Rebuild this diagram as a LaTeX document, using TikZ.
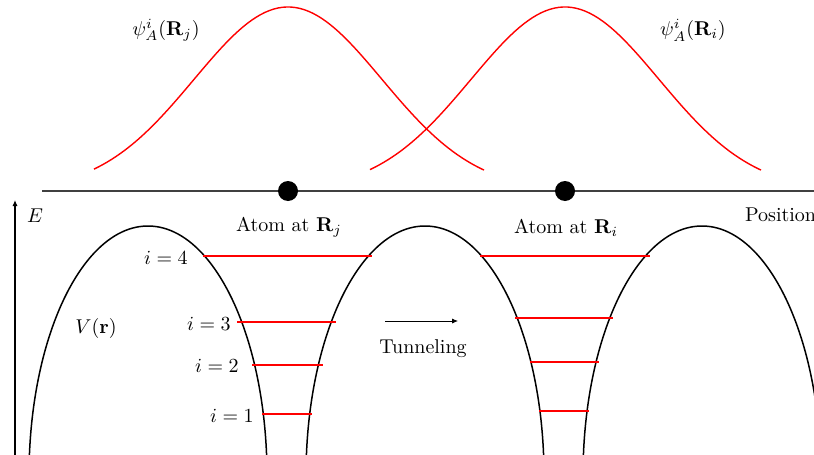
\documentclass[tikz,border=0pt]{standalone}
\usepackage{amsmath}
\usetikzlibrary{arrows.meta}
\begin{document}
\begin{tikzpicture}[x=0.5pt,y=-0.5pt]
\tikzset{
  atom/.style={circle, fill=black, inner sep=0pt, minimum size=10pt},
  well/.style={black, line width=0.75pt},
  level/.style={red, line width=1.1pt},
  wave/.style={red, line width=0.7pt},
  tip/.style={-{Latex[length=3pt,width=2.6pt]}}
}
\useasboundingbox (0,0) rectangle (814,455);
\clip (0,0) rectangle (814,455);
\draw[wave] plot[domain=94:484, samples=90] (\x, {191-184*exp(-0.5*((\x-288)/94)^2)});
\draw[wave] plot[domain=370:761, samples=90] (\x, {191-184*exp(-0.5*((\x-565)/94)^2)});
\node (psij) at (166,30) {$\psi_A^i(\mathbf{R}_j)$};
\node (psii) at (693,30) {$\psi_A^i(\mathbf{R}_i)$};
\coordinate (axl) at (42,191);
\coordinate (axr) at (820,191);
\node[atom] (Rj) at (288,191) {};
\node[atom] (Ri) at (565,191) {};
\draw[black!75, line width=0.75pt] (axl) -- (Rj) -- (Ri) -- (axr);
\node (atomj) at (289,227) {Atom at $\mathbf{R}_j$};
\node (atomi) at (566,228) {Atom at $\mathbf{R}_i$};
\node[anchor=west] (pos) at (738,215) {Position};
\coordinate (Ebot) at (15,470);
\coordinate (Etop) at (15,200);
\draw[tip, line width=0.6pt] (Ebot) -- (Etop);
\node (E) at (35,216) {$E$};
\draw[well] (148,476) ellipse (119 and 250);
\draw[well] (425,476) ellipse (119 and 250);
\draw[well] (702,476) ellipse (119 and 250);
\node (V) at (96,328) {$V(\mathbf{r})$};
\draw[level] (203,256) -- (372,256);
\draw[level] (237,322) -- (336,322);
\draw[level] (252,365) -- (323,365);
\draw[level] (262,414) -- (312,414);
\draw[level] (480,256) -- (650,256);
\draw[level] (515,318) -- (613,318);
\draw[level] (530,362) -- (599,362);
\draw[level] (539,411) -- (589,411);
\node (i4) at (166,258) {$i=4$};
\node (i3) at (209,324) {$i=3$};
\node (i2) at (217,366) {$i=2$};
\node (i1) at (232,416) {$i=1$};
\coordinate (tunl) at (385,321);
\coordinate (tunr) at (458,321);
\draw[tip, thin] (tunl) -- (tunr);
\node (tun) at (423,349) {Tunneling};
\end{tikzpicture}
\end{document}
